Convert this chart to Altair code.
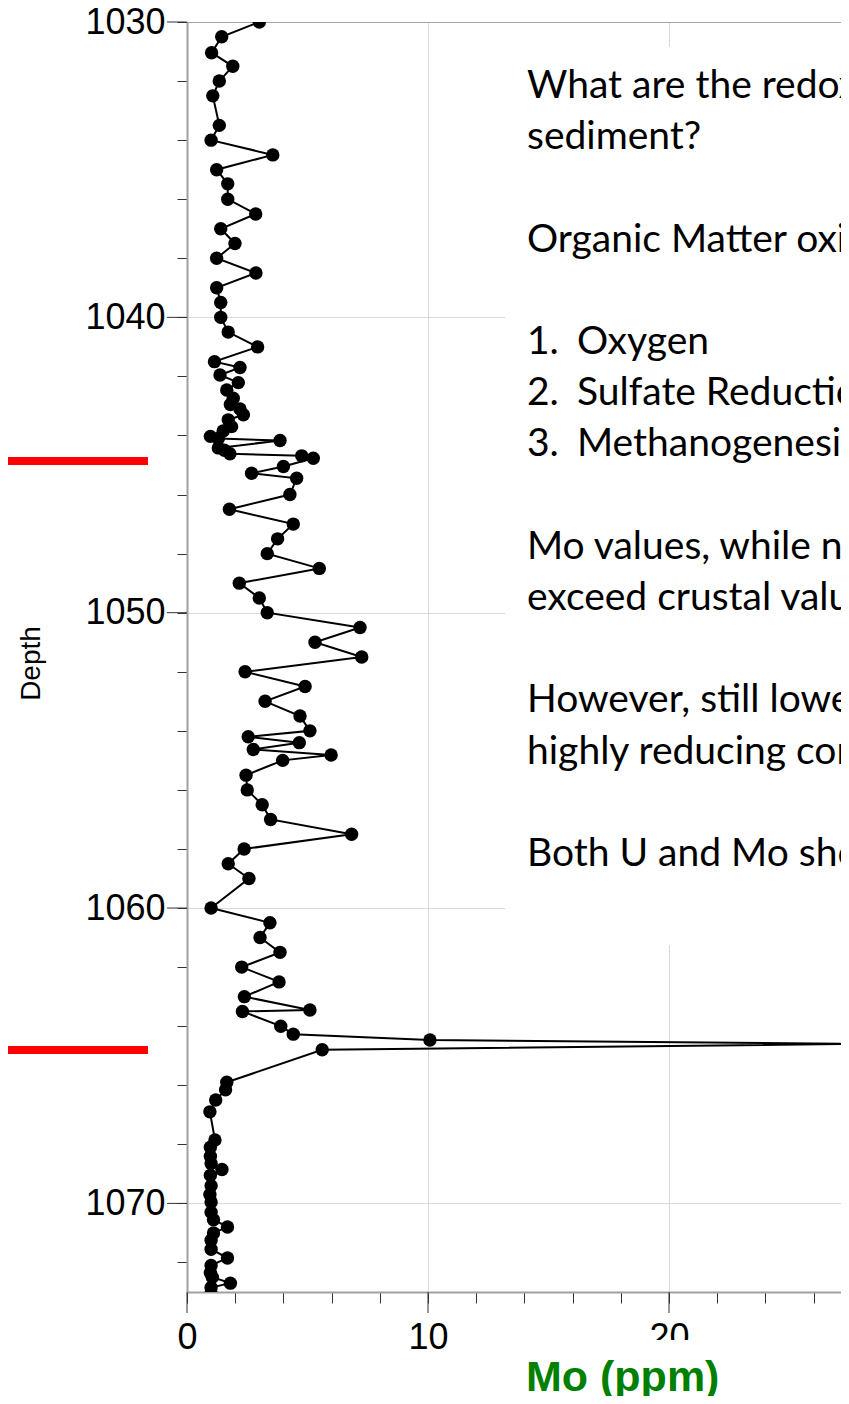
import altair as alt
import pandas as pd

# ---- data ----
depth = [1030.0, 1030.5, 1031.04, 1031.5, 1032.0, 1032.5, 1033.5, 1034.0, 1034.5, 1035.0,
         1035.48, 1036.0, 1036.5, 1037.0, 1037.5, 1038.0, 1038.5, 1039.0, 1039.5, 1040.0,
         1040.5, 1041.0, 1041.5, 1041.7, 1041.95, 1042.21, 1042.46, 1042.74, 1042.95, 1043.1,
         1043.3, 1043.47, 1043.7, 1043.85, 1044.03, 1044.1, 1044.17, 1044.42, 1044.5, 1044.62,
         1044.69, 1044.77, 1045.05, 1045.28, 1045.45, 1046.0, 1046.5, 1047.0, 1047.5, 1048.0,
         1048.5, 1049.0, 1049.5, 1050.0, 1050.5, 1051.0, 1051.5, 1052.0, 1052.5, 1053.0,
         1053.5, 1054.0, 1054.2, 1054.4, 1054.63, 1054.82, 1055.0, 1055.5, 1056.0, 1056.5,
         1057.0, 1057.5, 1058.0, 1058.5, 1059.0, 1060.0, 1060.5, 1061.0, 1061.5, 1062.0,
         1062.5, 1063.0, 1063.45, 1063.5, 1064.0, 1064.27, 1064.47, 1064.6, 1064.8, 1065.9,
         1066.15, 1066.5, 1066.9, 1067.85, 1068.1, 1068.4, 1068.65, 1068.85, 1069.05, 1069.4,
         1069.7, 1069.95, 1070.3, 1070.55, 1070.8, 1071.0, 1071.25, 1071.55, 1071.85, 1072.1,
         1072.35, 1072.5, 1072.7, 1072.85, 1073.05]
mo = [3.0, 1.44, 1.02, 1.90, 1.34, 1.07, 1.34, 1.0, 3.56, 1.23,
      1.69, 1.69, 2.85, 1.40, 1.99, 1.23, 2.86, 1.23, 1.40, 1.40,
      1.71, 2.93, 1.14, 2.20, 1.37, 2.13, 1.65, 1.92, 1.80, 2.20,
      2.34, 1.71, 1.85, 1.5, 0.97, 1.3, 3.86, 1.3, 1.55, 1.78,
      4.76, 5.24, 4.0, 2.68, 4.55, 4.27, 1.76, 4.41, 3.76, 3.33,
      5.49, 2.17, 3.0, 3.33, 7.18, 5.31, 7.25, 2.41, 4.90, 3.24,
      4.69, 5.10, 2.54, 4.66, 2.75, 5.98, 3.97, 2.45, 2.50, 3.12,
      3.47, 6.83, 2.37, 1.71, 2.57, 1.0, 3.44, 3.03, 3.86, 2.27,
      3.82, 2.38, 5.10, 2.30, 3.89, 4.41, 10.08, 27.6, 5.61, 1.65,
      1.60, 1.19, 0.95, 1.16, 0.97, 0.97, 1.0, 1.45, 0.97, 1.0,
      0.95, 1.0, 1.0, 1.1, 1.68, 1.1, 1.0, 1.0, 1.68, 1.0,
      0.97, 1.05, 1.8, 1.0, 1.0]

marker_depths = [1044.86, 1064.81]
x_ticks = list(range(0, 28, 2))
y_ticks = list(range(1030, 1074, 2))
x_major = [0, 10, 20]
y_major = [1030, 1040, 1050, 1060, 1070]
x_title = "Mo (ppm)"
y_title = "Depth"

box_lines = [
    "What are the redox conditions of the",
    "sediment?",
    "",
    "Organic Matter oxidation:",
    "",
    "1.|Oxygen",
    "2.|Sulfate Reduction",
    "3.|Methanogenesis",
    "",
    "Mo values, while not very high,",
    "exceed crustal values",
    "",
    "However, still lower than in",
    "highly reducing conditions",
    "",
    "Both U and Mo show enrichment",
]

# ---- layout ----
W, H = 654, 1270
X_DOMAIN = [0, 27.137]
Y_DOMAIN = [1030, 1073]
xs = alt.Scale(domain=X_DOMAIN, nice=False, zero=False)
ys = alt.Scale(domain=Y_DOMAIN, nice=False, zero=False, reverse=True)

df = pd.DataFrame({"depth": depth, "mo": mo})
one = pd.DataFrame({"k": [0]})

major = "datum.value % 10 === 0"
TICK = "#333333"

x_axis = alt.Axis(
    values=x_ticks, title=None, format="d",
    labelExpr=f"{major} ? datum.label : ''",
    tickSize=11, tickColor=TICK, tickWidth=1,
    grid=True, gridColor="#d9d9d9", gridWidth=1,
    gridOpacity={"condition": {"test": f"{major} && datum.value > 0", "value": 1}, "value": 0},
    domainColor="#a0a0a0", domainWidth=2,
    labelFont="Liberation Sans", labelFontSize=36, labelColor="#000000",
    labelPadding=17, labelOverlap=False, labelFlush=False,
)
y_axis = alt.Axis(
    values=y_ticks, title=y_title, format="d",
    labelExpr=f"{major} ? datum.label : ''",
    tickSize=10, tickColor=TICK, tickWidth=1,
    grid=True, gridWidth=1,
    gridColor={"condition": {"test": "datum.value === 1030", "value": "#a6a6a6"}, "value": "#d9d9d9"},
    gridOpacity={"condition": {"test": major, "value": 1}, "value": 0},
    domainColor="#a0a0a0", domainWidth=2,
    labelFont="Liberation Sans", labelFontSize=36, labelColor="#000000",
    labelPadding=12, labelOverlap=False, labelFlush=False,
    titleFont="Liberation Sans", titleFontSize=28, titleFontWeight="normal",
    titleColor="#000000", titleX=-148, titleY=641, titleAlign="center",
    titleBaseline="alphabetic",
)

box_bg = alt.Chart(one).mark_rect(color="white", clip=True).encode(
    x=alt.X(datum=13.2, scale=xs, axis=x_axis),
    x2=alt.X2(datum=30),
    y=alt.Y(datum=1030.85, scale=ys, axis=y_axis),
    y2=alt.Y2(datum=1061.25),
)

line = alt.Chart(df).mark_line(color="black", strokeWidth=2, clip=True).encode(
    x=alt.X("mo:Q", scale=xs, axis=x_axis),
    y=alt.Y("depth:Q", scale=ys, axis=y_axis),
    order="depth:Q",
)
points = alt.Chart(df).mark_circle(color="black", size=180, opacity=1, clip=True).encode(
    x=alt.X("mo:Q", scale=xs, axis=x_axis),
    y=alt.Y("depth:Q", scale=ys, axis=y_axis),
)

# longer ticks at the labelled values
ymaj = alt.Chart(pd.DataFrame({"depth": y_major})).mark_rule(
    color=TICK, strokeWidth=1, clip=False
).encode(y=alt.Y("depth:Q", scale=ys, axis=y_axis), x=alt.value(-20), x2=alt.value(0))
xmaj = alt.Chart(pd.DataFrame({"mo": x_major})).mark_rule(
    color=TICK, strokeWidth=1, clip=False
).encode(x=alt.X("mo:Q", scale=xs, axis=x_axis), y=alt.value(H), y2=alt.value(H + 21))

rules = alt.Chart(pd.DataFrame({"depth": marker_depths})).mark_rule(
    color="#ff0000", strokeWidth=8, clip=False
).encode(
    y=alt.Y("depth:Q", scale=ys, axis=y_axis),
    x=alt.value(-179), x2=alt.value(-39),
)

cover = alt.Chart(one).mark_rect(color="white", clip=False).encode(
    x=alt.value(313), x2=alt.value(W), y=alt.value(1318), y2=alt.value(1378),
)

xtitle = alt.Chart(one).mark_text(
    text=x_title, font="Liberation Sans", fontSize=43, fontWeight="bold",
    color="#008000", align="left", baseline="alphabetic", clip=False,
).encode(x=alt.value(339), y=alt.value(1369))

rows = []
for slot, ln in enumerate(box_lines):
    if not ln:
        continue
    parts = ln.split("|")
    for indent, part in enumerate(parts):
        rows.append({"text": part, "px": 340 + 50 * indent, "py": 76 + 51.2 * slot})
tdf = pd.DataFrame(rows)

box_text = alt.Chart(tdf).mark_text(
    font="Lato", fontSize=39, align="left", baseline="alphabetic",
    color="black", clip=False,
).encode(
    x=alt.X("px:Q", scale=None, axis=None),
    y=alt.Y("py:Q", scale=None, axis=None),
    text="text:N",
)

chart = alt.layer(box_bg, line, points, ymaj, xmaj, rules, cover, xtitle, box_text).properties(
    width=W, height=H,
    padding={"left": 179, "top": 14, "right": 0, "bottom": 104},
    autosize=alt.AutoSizeParams(type="none"),
    background="white",
).configure_view(stroke=None)

chart.save("out.html", embed_options={"renderer": "svg", "actions": False})
